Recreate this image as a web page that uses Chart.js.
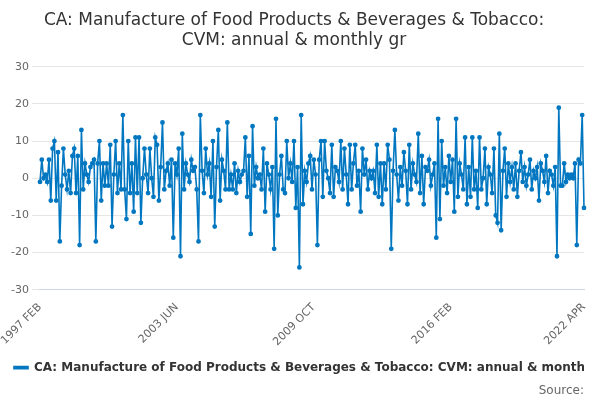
<!DOCTYPE html>
<html>
<head>
<meta charset="utf-8">
<script src="https://cdn.jsdelivr.net/npm/chart.js@4"></script>
<style>
  body { margin: 0; background: #fff; }
  #wrap { width: 600px; height: 400px; }
</style>
</head>
<body>
<div id="wrap"><canvas id="chart"></canvas></div>
<script>
// monthly growth, 1997 FEB .. 2022 APR
const startYear = 1997;
const startMonth = 1; // FEB
const monthNames = ['JAN','FEB','MAR','APR','MAY','JUN','JUL','AUG','SEP','OCT','NOV','DEC'];

const values = [
  -1, 5, 0, 1, -1, 5, -6, 8, 10, -6, 7,
  -17, -2, 8, 1, -3, 2, -4, 6, 8, -4, 6, -18,
  13, -3, 4, 1, -1, 3, 4, 5, -17, 4, 10, -6,
  4, -2, 4, -2, 9, -13, 1, 10, -4, 4, -3, 17,
  -3, -11, 10, -4, 4, -9, 11, -4, 11, -12, 0, 8,
  1, -4, 8, 0, -5, 11, 9, -6, 3, 15, -3, 2,
  4, -2, 5, -16, 4, 1, 8, -21, 12, -3, 4, 1,
  -1, 5, 2, 3, -3, -17, 17, 2, -4, 8, 1, 4,
  -5, 10, -13, 3, 13, -6, 5, 2, -3, 15, -3, 1,
  -3, 4, -4, 2, -1, 1, 2, 11, -5, 6, -15, 14,
  -2, 3, 0, 1, -3, 8, -9, 4, 1, -3, 3, -19,
  16, -10, 1, 6, -3, -4, 10, 0, 4, -1, 10, -8,
  3, -24, 17, -7, 2, -1, 4, 6, -3, 5, 1, -18,
  5, 10, -5, 10, 2, 0, -4, 9, -5, 3, 2, -1,
  10, -3, 8, 1, -7, 9, -3, 4, 9, -2, 2, -9,
  8, 1, 5, -3, 2, 0, 2, -4, 9, -5, 4, -7,
  4, -3, 9, 5, -19, 2, 13, 1, -6, 3, -2, 7,
  2, -7, 9, -3, 4, 1, -1, 12, -4, 6, -7, 3,
  2, 5, -2, 1, 4, -16, 16, -11, 10, -2, 3, -4,
  6, -1, 5, -9, 16, -5, 4, 1, -3, 11, -7, 3,
  -5, 11, -3, 2, -8, 11, -3, 0, 8, -7, 3, 1,
  -4, 8, -10, -12, 12, -14, 2, 8, -5, 4, -1, 3,
  -3, 4, -5, 2, 7, -1, 3, -2, 1, 5, -3, 2,
  0, 3, -6, 4, 2, -1, 6, -4, 2, 1, -2, 3,
  -21, 19, -2, -2, 4, -1, 1, 0, 1, 0, 4, -18,
  5, 4, 17, -8
];

const tickLabels = ['1997 FEB', '2003 JUN', '2009 OCT', '2016 FEB', '2022 APR'];
const yTicks = [-30, -20, -10, 0, 10, 20, 30];

const labels = values.map(function (v, i) {
    const m = startMonth + i;
    return (startYear + Math.floor(m / 12)) + ' ' + monthNames[m % 12];
});

const seriesName = 'CA: Manufacture of Food Products & Beverages & Tobacco: CVM: annual & monthly gr';

new Chart(document.getElementById('chart'), {
    type: 'line',
    data: {
        labels: labels,
        datasets: [{
            label: seriesName,
            data: values,
            borderColor: '#0077c0',
            backgroundColor: '#0077c0',
            borderWidth: 1.6,
            pointRadius: 1.6,
            pointHoverRadius: 3,
            tension: 0
        }]
    },
    options: {
        responsive: true,
        maintainAspectRatio: false,
        animation: false,
        layout: { padding: { left: 4, right: 16, top: 4, bottom: 0 } },
        scales: {
            x: {
                grid: { display: false },
                border: { color: '#ccd6eb' },
                ticks: {
                    autoSkip: false,
                    maxRotation: 45,
                    minRotation: 45,
                    color: '#666',
                    font: { family: 'DejaVu Sans', size: 11 },
                    callback: function (val) {
                        const l = labels[val];
                        return tickLabels.indexOf(l) >= 0 ? l : null;
                    }
                }
            },
            y: {
                min: -30,
                max: 30,
                afterBuildTicks: function (axis) {
                    axis.ticks = yTicks.map(function (v) { return { value: v }; });
                },
                grid: { color: '#e6e6e6' },
                border: { display: false },
                ticks: {
                    color: '#666',
                    font: { family: 'DejaVu Sans', size: 11 }
                }
            }
        },
        plugins: {
            title: {
                display: true,
                text: ['CA: Manufacture of Food Products & Beverages & Tobacco:', 'CVM: annual & monthly gr'],
                color: '#333',
                font: { family: 'DejaVu Sans', size: 17, weight: 'normal' },
                padding: { top: 6, bottom: 16 }
            },
            legend: {
                position: 'bottom',
                align: 'start',
                labels: {
                    color: '#333',
                    font: { family: 'DejaVu Sans', size: 12, weight: 'bold' },
                    boxWidth: 14,
                    boxHeight: 2
                }
            },
            subtitle: {
                display: true,
                position: 'bottom',
                align: 'end',
                text: 'Source:',
                color: '#666',
                font: { family: 'DejaVu Sans', size: 12 },
                padding: { top: 0, bottom: 2 }
            },
            tooltip: { enabled: false }
        }
    }
});
</script>
</body>
</html>
